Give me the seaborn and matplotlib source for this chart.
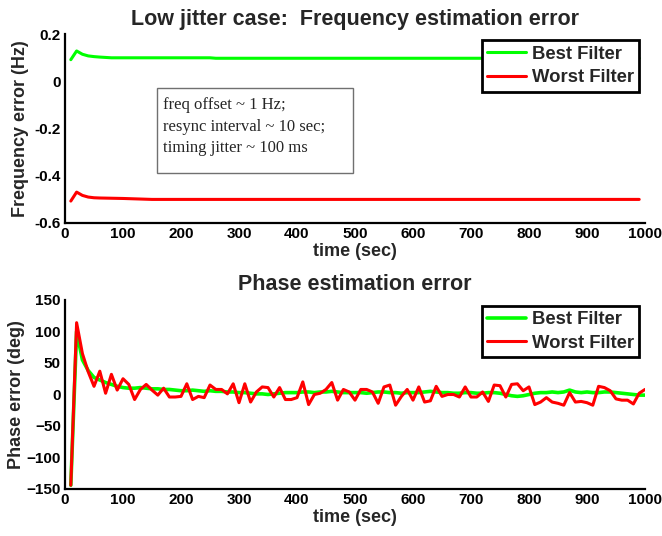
import matplotlib
matplotlib.use("Agg")
import matplotlib.pyplot as plt
import seaborn as sns
from matplotlib.patches import Rectangle

# top panel: frequency error (Hz), breakpoints
freq_t = [10, 20, 30, 40, 50, 60, 80, 100, 150, 200, 250, 260, 300, 400, 500, 600, 700, 800, 900, 990]
freq_best = [0.093, 0.13, 0.116, 0.109, 0.106, 0.104, 0.101, 0.101, 0.101, 0.101, 0.101, 0.099,
             0.099, 0.099, 0.099, 0.099, 0.099, 0.099, 0.099, 0.099]
freq_worst = [-0.507, -0.469, -0.483, -0.49, -0.493, -0.494, -0.495, -0.496, -0.5, -0.5, -0.5, -0.5,
              -0.5, -0.5, -0.5, -0.5, -0.5, -0.5, -0.5, -0.5]

# bottom panel: phase error (deg), one sample every 10 sec
phase_t = list(range(10, 1001, 10))
phase_best = [-144, 100, 55, 38, 27, 23, 19, 16, 13, 11,
              10, 10, 11, 10, 9, 9, 8, 8, 7, 6,
              6, 7, 6, 5, 6, 5, 5, 4, 4, 3,
              3, 2, 1, 1, 0, 1, 2, 3, 3, 3,
              4, 4, 3, 4, 4, 5, 4, 3, 3, 3,
              3, 2, 3, 4, 4, 3, 3, 2, 3, 3,
              3, 4, 5, 4, 3, 3, 2, 2, 3, 3,
              2, 2, 3, 3, 2, 0, -2, -3, -2, 0,
              2, 3, 3, 4, 3, 4, 7, 4, 3, 4,
              3, 3, 4, 4, 3, 2, 1, 0, -1, -1]
phase_worst = [-144, 114, 65, 36, 13, 37, 2, 32, 7, 25,
               16, -8, 8, 16, 7, -1, 10, -4, -4, -3,
               17, -8, -3, -5, 15, 8, 8, 1, 17, -13,
               17, -12, 4, 12, 11, -4, 11, -8, -8, -5,
               20, -16, 0, 2, 8, 19, -9, 8, 4, -9,
               8, 8, 4, -14, 12, 15, -17, -3, 8, -9,
               12, -12, -10, 13, -3, 0, 0, -4, 12, -4,
               -4, 4, -11, 15, 14, -4, 16, 17, 6, 12,
               -16, -12, -5, -12, -14, -17, 3, -12, -11, -13,
               -17, 13, 11, 6, -7, -9, -9, -15, 2, 8]

series_names = ["Best Filter", "Worst Filter"]
note_lines = ["freq offset ~ 1 Hz;", "resync interval ~ 10 sec;", "timing jitter ~ 100 ms"]

GREEN = "#00ff00"
RED = "#ff0000"

sns.set_style("white")
plt.rcParams['font.family'] = ['Liberation Sans', 'DejaVu Sans']
plt.rcParams['font.weight'] = 'bold'

fig = plt.figure(figsize=(6.62, 5.36), dpi=100)
ax1 = fig.add_axes([0.0982, 0.5840, 0.8761, 0.3517])
ax2 = fig.add_axes([0.0982, 0.0877, 0.8761, 0.3526])


def style_axis(ax):
    for side in ["top", "right"]:
        ax.spines[side].set_visible(False)
    for side in ["left", "bottom"]:
        ax.spines[side].set_linewidth(1.6)
        ax.spines[side].set_color("black")
    ax.tick_params(direction="in", length=3.5, width=1.5, labelsize=11, pad=3,
                   top=False, right=False, colors="black")
    for lab in ax.get_xticklabels() + ax.get_yticklabels():
        lab.set_fontweight("bold")
    ax.set_xlim(0, 1000)
    ax.set_xticks(range(0, 1001, 100))
    ax.set_xlabel("time (sec)", fontsize=13, fontweight="bold", labelpad=1)


def add_legend(ax):
    leg = ax.legend(loc="upper right", fontsize=13.3, frameon=True, fancybox=False,
                    borderaxespad=0.3, borderpad=0.3, handlelength=2.1, handletextpad=0.3,
                    labelspacing=0.35, framealpha=1)
    leg.get_frame().set_edgecolor("black")
    leg.get_frame().set_linewidth(2.0)
    for txt in leg.get_texts():
        txt.set_fontweight("bold")


# top panel
sns.lineplot(x=freq_t, y=freq_best, ax=ax1, color=GREEN, lw=2.2, label=series_names[0])
sns.lineplot(x=freq_t, y=freq_worst, ax=ax1, color=RED, lw=2.2, label=series_names[1])
ax1.set_ylim(-0.6, 0.2)
ax1.set_yticks([-0.6, -0.4, -0.2, 0, 0.2])
ax1.set_yticklabels(["-0.6", "-0.4", "-0.2", "0", "0.2"])
style_axis(ax1)
ax1.set_ylabel("Frequency error (Hz)", fontsize=13, fontweight="bold", labelpad=4)
ax1.set_title("Low jitter case:  Frequency estimation error", fontsize=15.5, fontweight="bold", pad=7)
add_legend(ax1)

ax1.add_patch(Rectangle((0.158, 0.267), 0.338, 0.448, transform=ax1.transAxes,
                        fill=False, edgecolor="#707070", lw=1.0))
for i, line in enumerate(note_lines):
    ax1.text(0.1695, 0.603 - i * 0.1125, line, transform=ax1.transAxes,
             family=["Liberation Serif", "DejaVu Serif"], fontweight="normal",
             fontsize=12, va="baseline", ha="left")

# bottom panel
sns.lineplot(x=phase_t, y=phase_best, ax=ax2, color=GREEN, lw=2.6, label=series_names[0])
sns.lineplot(x=phase_t, y=phase_worst, ax=ax2, color=RED, lw=2.2, label=series_names[1])
ax2.set_ylim(-150, 150)
ax2.set_yticks(range(-150, 151, 50))
style_axis(ax2)
ax2.set_ylabel("Phase error (deg)", fontsize=13, fontweight="bold", labelpad=1)
ax2.set_title("Phase estimation error", fontsize=15.5, fontweight="bold", pad=7)
add_legend(ax2)

fig.savefig("out.png", dpi=100)
